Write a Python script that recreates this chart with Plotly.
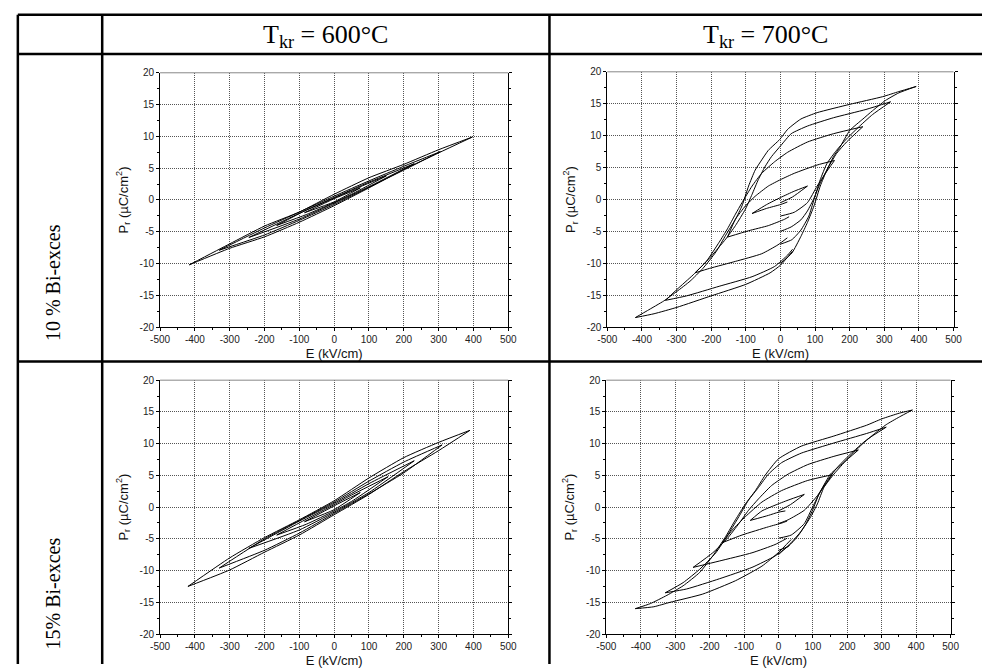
import plotly.graph_objects as go

W, H = 991, 670

# ---- column / row headers ----
col_titles = ["T<sub>kr</sub> = 600°C", "T<sub>kr</sub> = 700°C"]
row_titles = ["10 % Bi-exces", "15% Bi-exces"]

# ---- axis ticks ----
E_TICKS = [-500, -400, -300, -200, -100, 0, 100, 200, 300, 400, 500]
E_TICK_TEXT = ["-500", "-400", "-300", "-200", "-100", "0", "100", "200", "300", "400", "500"]
P_TICKS = [-20, -15, -10, -5, 0, 5, 10, 15, 20]
P_TICK_TEXT = ["-20", "-15", "-10", "-5", "0", "5", "10", "15", "20"]

# ---- hysteresis loops, (E kV/cm, P uC/cm2); each loop: +tip -> upper branch -> -tip -> lower branch ----
# 10 % Bi excess, 600 C
b10_600_a = [(397, 9.9), (300, 7.9), (200, 5.6), (100, 3.5), (0, 0.9), (-100, -1.9), (-200, -4.1), (-300, -6.9),
             (-416, -10.2), (-300, -7.6), (-200, -5.8), (-100, -3.5), (0, -0.9), (100, 1.9), (200, 4.8), (300, 7.4), (397, 9.9)]
b10_600_b = [(305, 7.6), (200, 5.3), (100, 3.0), (0, 0.6), (-100, -1.9), (-200, -4.4), (-330, -7.9),
             (-200, -5.5), (-100, -3.2), (0, -0.7), (100, 2.0), (200, 4.7), (305, 7.6)]
b10_600_c = [(230, 5.7), (100, 2.8), (0, 0.4), (-100, -2.1), (-245, -5.9), (-100, -3.0), (0, -0.5), (100, 2.1), (230, 5.7)]
b10_600_d = [(150, 3.8), (50, 1.5), (0, 0.3), (-80, -1.6), (-165, -4.0), (-80, -2.3), (0, -0.4), (50, 0.9), (150, 3.8)]
b10_600_e = [(75, 1.9), (0, 0.2), (-85, -2.0), (0, -0.3), (75, 1.9)]

# 15 % Bi excess, 600 C
b15_600_a = [(390, 12.1), (300, 10.2), (200, 7.8), (100, 4.6), (0, 1.0), (-100, -2.0), (-200, -4.8), (-300, -8.0),
             (-420, -12.5), (-300, -9.9), (-200, -7.1), (-100, -4.4), (0, -1.2), (100, 2.0), (200, 5.6), (300, 8.9), (390, 12.1)]
b15_600_b = [(310, 9.8), (200, 7.1), (100, 4.1), (0, 0.8), (-100, -2.1), (-200, -5.0), (-330, -9.6),
             (-200, -6.8), (-100, -4.1), (0, -1.0), (100, 2.1), (200, 5.4), (310, 9.8)]
b15_600_c = [(230, 7.3), (100, 3.7), (0, 0.6), (-100, -2.2), (-245, -6.5), (-100, -3.6), (0, -0.8), (100, 2.3), (230, 7.3)]
b15_600_d = [(155, 4.8), (50, 1.9), (0, 0.4), (-80, -1.9), (-165, -4.4), (-80, -2.7), (0, -0.6), (50, 0.9), (155, 4.8)]
b15_600_e = [(75, 2.3), (0, 0.2), (-85, -2.3), (0, -0.4), (75, 2.3)]

# 10 % Bi excess, 700 C  (start near E=0 -> +tip -> -tip -> back towards E=0)
b10_700_a = [(0, -0.5), (35, 0.4), (78, 2.1), (40, 1.3), (0, 0.3), (-40, -0.8), (-82, -2.2),
             (-40, -1.4), (0, -0.8), (20, -0.4)]
b10_700_b = [(0, -2.6), (40, -2.0), (78, -0.5), (106, 2.1), (130, 4.1), (156, 6.1),
             (106, 5.4), (40, 4.1), (0, 3.1), (-35, 2.1), (-73, 0.5), (-101, -1.0), (-130, -3.1), (-153, -5.9),
             (-92, -4.9), (-35, -4.1), (12, -3.1), (25, -2.7)]
b10_700_c = [(0, -5.0), (31, -4.3), (59, -3.2), (78, -1.8), (97, 0.2), (115, 2.6), (139, 5.1), (162, 7.2), (191, 9.0), (238, 11.4),
             (153, 10.3), (78, 9.0), (21, 7.4), (-17, 5.9), (-54, 4.1), (-82, 2.1), (-111, -0.5), (-130, -2.3), (-153, -4.6),
             (-177, -6.7), (-214, -9.7), (-247, -11.5),
             (-205, -10.8), (-130, -9.7), (-54, -8.5), (-7, -7.1), (20, -6.0)]
b10_700_d = [(0, -7.0), (33, -6.3), (59, -4.8), (82, -2.6), (97, 0.0), (115, 3.1), (134, 5.6), (162, 7.7), (191, 9.5), (229, 11.5),
             (266, 13.3), (318, 15.3),
             (247, 14.1), (153, 12.8), (78, 11.5), (31, 10.3), (2, 8.5), (-26, 6.7), (-45, 5.1), (-64, 3.1), (-82, 0.8),
             (-101, -1.5), (-130, -4.1), (-158, -6.2), (-205, -9.2), (-252, -11.8), (-299, -14.1), (-332, -15.8),
             (-271, -15.1), (-177, -13.6), (-82, -12.1), (-17, -10.5), (21, -8.7), (35, -7.8)]
b10_700_e = [(0, -10.0), (33, -8.4), (59, -5.8), (78, -3.6), (97, -1.0), (115, 2.1), (134, 4.6), (153, 6.7), (172, 8.2),
             (200, 10.8), (238, 12.6), (266, 13.9), (303, 15.5), (342, 16.7), (392, 17.7),
             (342, 16.9), (295, 16.1), (200, 14.9), (106, 13.6), (59, 12.6), (21, 11.0), (-2, 9.4), (-35, 7.7), (-54, 6.2),
             (-73, 4.6), (-92, 2.1), (-111, -1.0), (-130, -3.1), (-158, -5.6), (-186, -8.2), (-224, -10.8), (-261, -12.8),
             (-299, -14.4), (-337, -15.9), (-384, -17.4), (-419, -18.5),
             (-365, -17.9), (-299, -16.9), (-200, -15.1), (-100, -13.3), (-30, -11.5), (0, -10.3), (35, -8.1)]

# 15 % Bi excess, 700 C
b15_700_a = [(0, -0.6), (35, 0.4), (75, 2.0), (28, 1.1), (-10, 0.3), (-48, -0.6), (-82, -2.1),
             (-29, -1.3), (0, -0.8), (20, -0.6)]
b15_700_b = [(0, -2.6), (28, -2.0), (75, -0.5), (113, 1.8), (156, 5.1),
             (85, 4.2), (9, 2.6), (-48, 0.8), (-96, -1.5), (-134, -3.6), (-163, -5.6),
             (-106, -4.4), (-29, -3.1), (10, -2.5), (25, -2.2)]
b15_700_c = [(0, -4.9), (37, -4.4), (75, -2.6), (99, 0.0), (123, 2.6), (151, 5.2), (189, 7.0), (232, 9.0),
             (161, 8.0), (85, 6.7), (28, 5.2), (-20, 3.4), (-58, 1.3), (-87, -0.5), (-115, -2.6), (-148, -4.9),
             (-191, -7.2), (-248, -9.5),
             (-172, -8.5), (-77, -7.2), (-10, -5.9), (25, -4.9)]
b15_700_d = [(0, -6.8), (28, -6.2), (56, -4.6), (80, -2.6), (99, -0.5), (118, 2.1), (142, 4.2), (170, 6.2), (208, 8.3),
             (256, 10.6), (313, 12.6),
             (256, 11.6), (161, 10.1), (66, 8.5), (9, 7.0), (-29, 5.2), (-58, 3.1), (-87, 1.1), (-115, -1.5), (-144, -4.1),
             (-182, -7.2), (-229, -9.8), (-277, -11.9), (-329, -13.5),
             (-267, -12.9), (-172, -11.3), (-77, -9.5), (-10, -7.7), (30, -6.1)]
b15_700_e = [(0, -7.5), (37, -5.6), (66, -3.8), (94, -1.5), (113, 0.5), (132, 3.1), (161, 5.2), (199, 7.5), (237, 9.6),
             (275, 11.4), (313, 13.0), (351, 14.2), (389, 15.3),
             (351, 14.8), (300, 13.9), (256, 12.9), (161, 11.2), (66, 9.6), (0, 7.6), (-39, 5.0), (-67, 2.6), (-96, 0.5),
             (-125, -2.0), (-153, -4.6), (-191, -7.7), (-229, -10.3), (-277, -12.4), (-324, -13.9), (-372, -15.2), (-416, -16.0),
             (-362, -15.7), (-315, -15.0), (-220, -13.7), (-125, -11.6), (-48, -9.3), (-1, -7.2), (37, -5.1)]

panels = [
    ("x", "y", [b10_600_a, b10_600_b, b10_600_c, b10_600_d, b10_600_e]),
    ("x2", "y2", [b10_700_a, b10_700_b, b10_700_c, b10_700_d, b10_700_e]),
    ("x3", "y3", [b15_600_a, b15_600_b, b15_600_c, b15_600_d, b15_600_e]),
    ("x4", "y4", [b15_700_a, b15_700_b, b15_700_c, b15_700_d, b15_700_e]),
]


def loop_xy(pts):
    """Split a loop at its field extremes so each branch is smoothed on its own."""
    es = [p[0] for p in pts]
    cuts = sorted({es.index(max(es)), es.index(min(es))})
    xs, ys = [], []
    start = 0
    for c in cuts + [len(pts) - 1]:
        seg = pts[start:c + 1]
        if len(seg) > 1:
            xs += [p[0] for p in seg] + [None]
            ys += [p[1] for p in seg] + [None]
        start = c
    return xs, ys


fig = go.Figure()
for xa, ya, loops in panels:
    for lp in loops:
        xs, ys = loop_xy(lp)
        fig.add_trace(go.Scatter(x=xs, y=ys, mode="lines", xaxis=xa, yaxis=ya,
                                 line=dict(color="black", width=1, shape="spline", smoothing=0.5),
                                 connectgaps=False, showlegend=False, hoverinfo="skip"))


def px(x):
    """Page x (px) -> paper fraction."""
    return x / W


def py(y):
    """Page y (px) -> paper fraction."""
    return 1 - y / H


# plot areas in page pixels: (left, right, top, bottom)
areas = [(153, 508, 68, 327), (609, 962, 67, 327), (153, 508, 381, 639.5), (608, 959, 381, 639.5)]

tick_font = dict(family="Liberation Sans, Arial, sans-serif", size=10, color="#222")
title_font = dict(family="Liberation Sans, Arial, sans-serif", size=13, color="#111")

layout = dict(width=W, height=H, margin=dict(l=0, r=0, t=0, b=0),
              paper_bgcolor="white", plot_bgcolor="white", showlegend=False)
shapes = []
for i, (l, r, t, b) in enumerate(areas):
    sfx = "" if i == 0 else str(i + 1)
    layout["xaxis" + sfx] = dict(
        domain=[px(l), px(r)], anchor="y" + sfx, range=[-500, 500],
        tickmode="array", tickvals=E_TICKS, ticktext=E_TICK_TEXT,
        ticks="outside", ticklen=3, tickwidth=1, tickcolor="black",
        minor=dict(ticks="outside", ticklen=2, dtick=50, tick0=0, tickcolor="black", showgrid=False),
        showline=True, linecolor="black", linewidth=1, mirror=False,
        showgrid=True, gridcolor="#555", griddash="1px,1px", gridwidth=1, zeroline=False,
        tickfont=tick_font, title=dict(text="E (kV/cm)", font=title_font, standoff=4),
        fixedrange=True)
    layout["yaxis" + sfx] = dict(
        domain=[py(b), py(t)], anchor="x" + sfx, range=[-20, 20],
        tickmode="array", tickvals=P_TICKS, ticktext=P_TICK_TEXT,
        ticks="outside", ticklen=3, tickwidth=1, tickcolor="black",
        minor=dict(ticks="outside", ticklen=2, dtick=2.5, tick0=0, tickcolor="black", showgrid=False),
        showline=True, linecolor="black", linewidth=1, mirror="ticks",
        showgrid=True, gridcolor="#555", griddash="1px,1px", gridwidth=1, zeroline=False,
        tickfont=tick_font,
        title=dict(text="P<sub>r</sub> (µC/cm<sup>2</sup>)", font=title_font, standoff=8),
        fixedrange=True)
    shapes.append(dict(type="line", xref="paper", yref="paper", x0=px(l), x1=px(r), y0=py(t), y1=py(t),
                       line=dict(color="#888", width=1)))

# table rules
rule = dict(color="black", width=2.5)
for x0, x1, y0, y1 in [(8, W, 9, 9), (8, W, 49, 49), (8, W, 362, 362),
                       (8, 8, 9, H), (94, 94, 9, H), (550, 550, 9, H)]:
    shapes.append(dict(type="line", xref="paper", yref="paper", x0=px(x0), x1=px(x1), y0=py(y0), y1=py(y1),
                       line=rule))
layout["shapes"] = shapes

serif = "Liberation Serif, Times New Roman, serif"
annotations = []
for txt, cx in zip(col_titles, [322, 770]):
    annotations.append(dict(text=txt, x=px(cx), y=py(31), xref="paper", yref="paper", showarrow=False,
                            xanchor="center", yanchor="middle", font=dict(family=serif, size=26, color="black")))
for txt, cy in zip(row_titles, [282, 598]):
    annotations.append(dict(text=txt, x=px(44), y=py(cy), xref="paper", yref="paper", showarrow=False,
                            textangle=-90, xanchor="center", yanchor="middle",
                            font=dict(family=serif, size=20, color="black")))
layout["annotations"] = annotations

fig.update_layout(**layout)
# the figure fills the page edge to edge
fig.write_html("out.html", post_script="document.body.style.margin = '0px';")
